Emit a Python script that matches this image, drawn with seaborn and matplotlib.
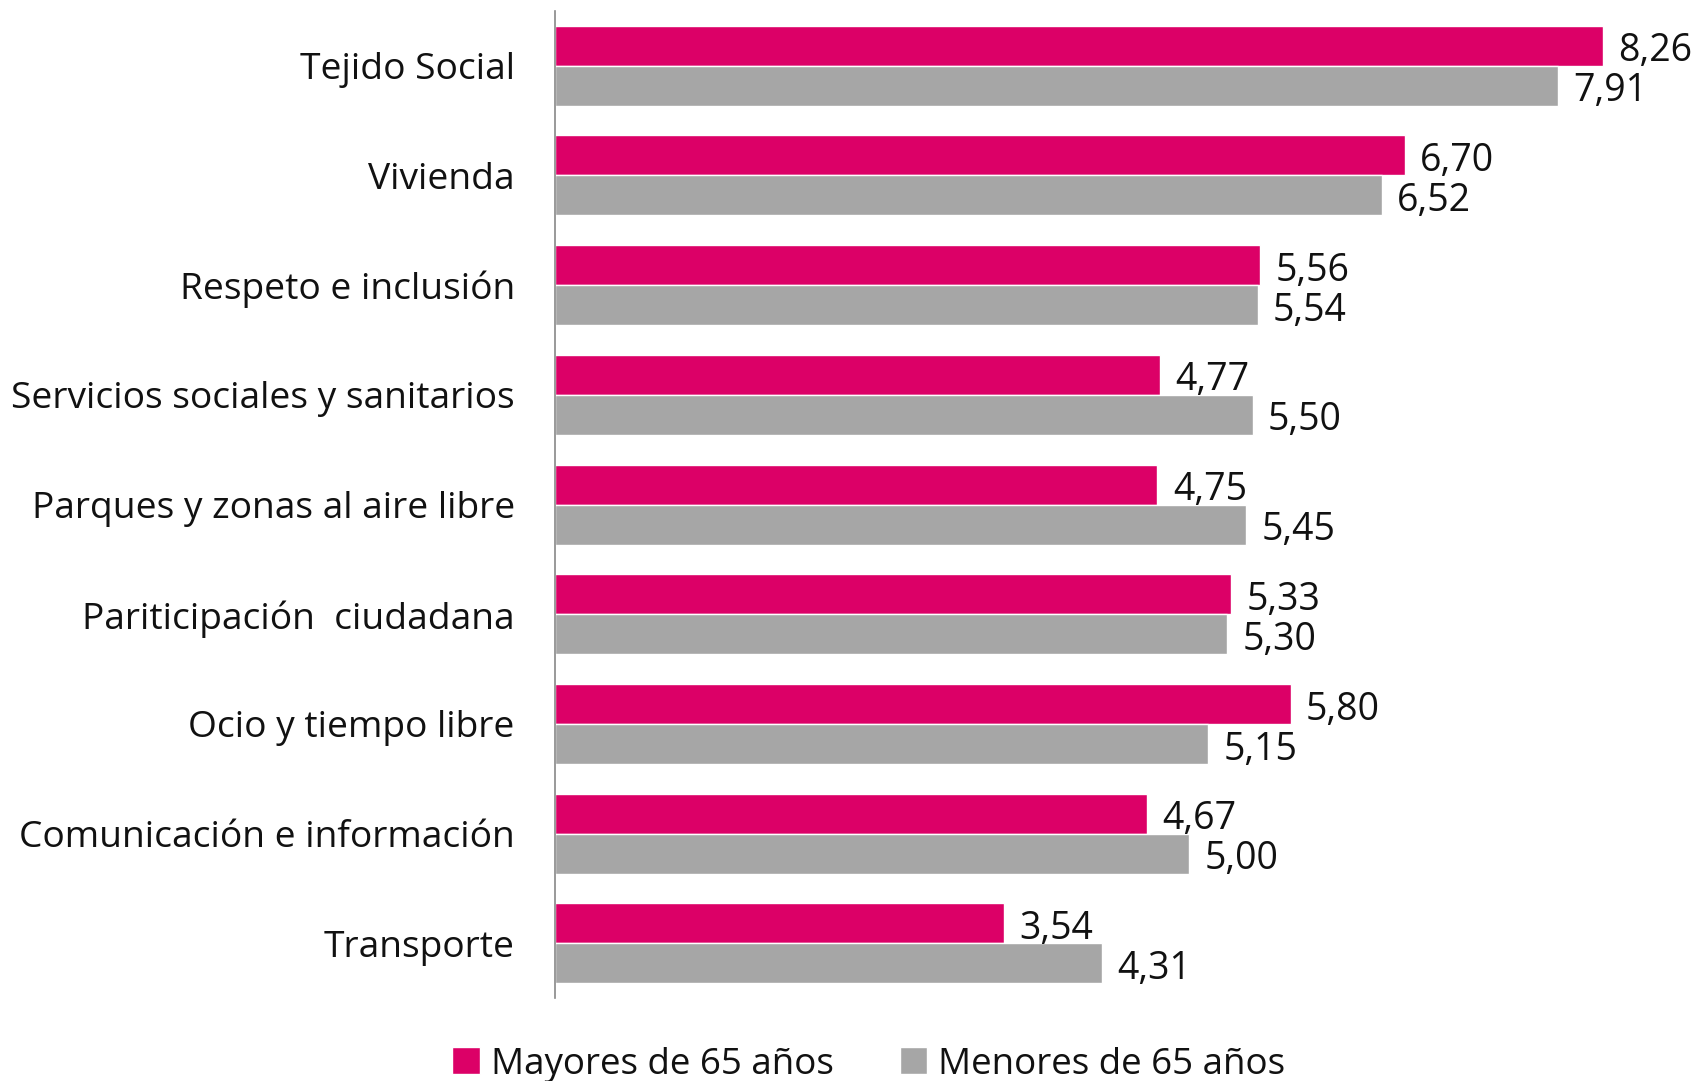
import pandas as pd
import matplotlib.pyplot as plt
import seaborn as sns

categories = ['Tejido Social', 'Vivienda', 'Respeto e inclusión',
              'Servicios sociales y sanitarios', 'Parques y zonas al aire libre',
              'Pariticipación  ciudadana', 'Ocio y tiempo libre',
              'Comunicación e información', 'Transporte']
mayores = [8.26, 6.70, 5.56, 4.77, 4.75, 5.33, 5.80, 4.67, 3.54]
menores = [7.91, 6.52, 5.54, 5.50, 5.45, 5.30, 5.15, 5.00, 4.31]
series = ['Mayores de 65 años', 'Menores de 65 años']
colors = ['#DC0067', '#A6A6A6']

df = pd.DataFrame({
    'cat': categories * 2,
    'valor': mayores + menores,
    'grupo': [series[0]] * len(categories) + [series[1]] * len(categories),
})

sns.set_style('white')
plt.rcParams['font.family'] = ['Open Sans', 'DejaVu Sans']

fig = plt.figure(figsize=(17, 10.81), dpi=100)
ax = fig.add_axes([0.3265, 0.0765, 0.664, 0.9135])

sns.barplot(data=df, y='cat', x='valor', hue='grupo', hue_order=series,
            palette=colors, orient='h', width=0.73, gap=0, ax=ax,
            saturation=1, errorbar=None, legend=True)

for cont in ax.containers:
    anns = ax.bar_label(cont, labels=[f'{v:.2f}'.replace('.', ',') for v in cont.datavalues],
                        padding=11, fontsize=27, color='#111111')
    for a in anns:
        a.xyann = (11, -4)

ax.set_xlim(0, 8.9)
ax.set_ylim(8.5, -0.5)
ax.set_xlabel('')
ax.set_ylabel('')
ax.set_xticks([])
ax.tick_params(axis='y', length=0, pad=29, labelsize=26.7, labelcolor='#111111')
for s in ['top', 'right', 'bottom']:
    ax.spines[s].set_visible(False)
ax.spines['left'].set_color('#888888')
ax.spines['left'].set_linewidth(1.2)

handles, labels = ax.get_legend_handles_labels()
ax.legend(handles, labels, loc='center', bbox_to_anchor=(0.511, 0.015),
          bbox_transform=fig.transFigure,
          ncol=2, frameon=False, fontsize=26.5, handlelength=0.75, handleheight=0.75,
          handletextpad=0.3, columnspacing=1.8, labelcolor='#111111')

fig.savefig('out.png', dpi=100)
